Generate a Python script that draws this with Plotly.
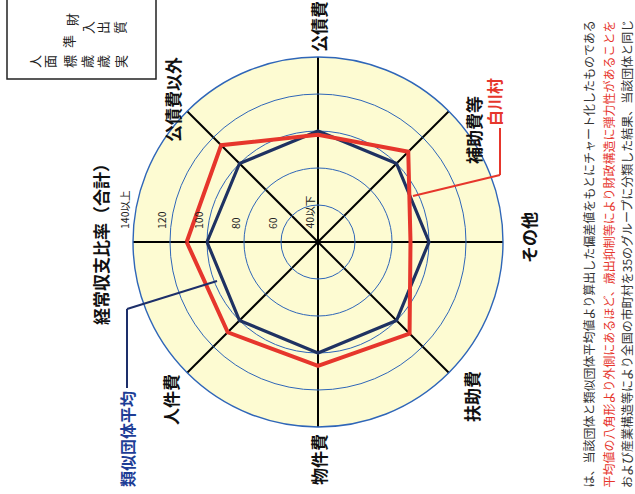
import plotly.graph_objects as go

# ---------------- data ----------------
categories = ["経常収支比率(合計)", "公債費以外", "公債費", "補助費等",
              "その他", "扶助費", "物件費", "人件費"]
shirakawa = [111, 114, 98, 109, 90, 110, 107, 109]   # 白川村
ruiji = [100, 100, 100, 100, 100, 100, 100, 100]      # 類似団体平均
ring_values = [60, 80, 100, 120]
scale_values = [40, 60, 80, 100, 120, 140]
scale_labels = ["40以下", "60", "80", "100", "120", "140以上"]

# ---------------- geometry ----------------
W, H = 635, 494
CX, CY, R = 318, 242, 185          # polar centre / radius in pixels
RMIN, RMAX = 40, 140


def P(x, y):
    return x / W, 1 - y / H


FONT = "Noto Sans CJK JP"
BLUE = "#2f66b8"
NAVY = "#1f3262"
RED = "#e6362c"

fig = go.Figure()

fig.add_trace(go.Scatterpolar(
    r=ruiji + ruiji[:1], theta=categories + categories[:1],
    mode="lines", line=dict(color=NAVY, width=3.2), name="類似団体平均",
    hoverinfo="skip"))
fig.add_trace(go.Scatterpolar(
    r=shirakawa + shirakawa[:1], theta=categories + categories[:1],
    mode="lines", line=dict(color=RED, width=4), name="白川村",
    hoverinfo="skip"))

fig.update_layout(
    width=W, height=H,
    margin=dict(l=0, r=0, t=0, b=0),
    paper_bgcolor="white",
    showlegend=False,
    polar=dict(
        domain=dict(x=[(CX - R) / W, (CX + R) / W],
                    y=[(H - CY - R) / H, (H - CY + R) / H]),
        bgcolor="#fdfbd2",
        radialaxis=dict(range=[RMIN, RMAX], tickvals=ring_values,
                        showticklabels=False, ticks="", showline=False,
                        gridcolor=BLUE, gridwidth=1.3),
        angularaxis=dict(rotation=180, direction="clockwise",
                         showticklabels=False, ticks="",
                         showline=True, linecolor=BLUE, linewidth=1.4,
                         gridcolor="black", gridwidth=2),
    ),
)

ann = []

# radial scale labels along the left spoke
for v, t in zip(scale_values, scale_labels):
    rpx = (v - RMIN) / (RMAX - RMIN) * R
    x, y = P(CX - rpx - 9, CY - 11)
    ann.append(dict(x=x, y=y, xref="paper", yref="paper", text=t,
                    textangle=-90, showarrow=False, xanchor="center",
                    yanchor="bottom",
                    font=dict(family=FONT, size=10.5, color="#222")))

# category labels
cat_pos = [(101, 240), (172, 100), (318, 27), (474, 130),
           (528, 238), (471, 396), (318, 460), (170, 400)]
cat_text = ["経常収支比率（合計）", "公債費以外", "公債費", "補助費等",
            "その他", "扶助費", "物件費", "人件費"]
for t, (px, py) in zip(cat_text, cat_pos):
    x, y = P(px, py)
    ann.append(dict(x=x, y=y, xref="paper", yref="paper",
                    text="<b>%s</b>" % t, textangle=-90, showarrow=False,
                    xanchor="center", yanchor="middle",
                    font=dict(family=FONT, size=17, color="#111")))

# legend callouts
x, y = P(494, 102)
ann.append(dict(x=x, y=y, xref="paper", yref="paper", text="<b>白川村</b>",
                textangle=-90, showarrow=False, xanchor="center",
                yanchor="middle", font=dict(family=FONT, size=16, color=RED)))
x, y = P(127, 489)
ann.append(dict(x=x, y=y, xref="paper", yref="paper",
                text="<b>類似団体平均</b>", textangle=-90, showarrow=False,
                xanchor="center", yanchor="bottom",
                font=dict(family=FONT, size=16, color="#1d3d96")))

shapes = []


def seg(x0, y0, x1, y1, color, width):
    a, b = P(x0, y0)
    c, d = P(x1, y1)
    shapes.append(dict(type="line", xref="paper", yref="paper",
                       x0=a, y0=b, x1=c, y1=d,
                       line=dict(color=color, width=width)))


seg(500, 128, 500, 175, RED, 2)
seg(500, 175, 413, 196, RED, 2)
seg(127, 388, 127, 309, "#1d2f6a", 2)
seg(127, 309, 217, 281, "#1d2f6a", 2)

# cropped table box at top-left
a, b = P(7, -5)
c, d = P(156, 79)
shapes.append(dict(type="rect", xref="paper", yref="paper", x0=a, y0=d,
                   x1=c, y1=b, line=dict(color="#222", width=1.5)))
box_chars = [("人", 35, 62), ("面", 50, 62), ("標", 70, 62), ("歳", 87, 62),
             ("歳", 103, 62), ("実", 121, 62), ("準", 68, 42), ("財", 71, 20),
             ("入", 88, 28), ("出", 103, 28), ("質", 120, 28)]
for ch, px, py in box_chars:
    x, y = P(px, py)
    ann.append(dict(x=x, y=y, xref="paper", yref="paper", text=ch,
                    textangle=-90, showarrow=False, xanchor="center",
                    yanchor="middle",
                    font=dict(family=FONT, size=13, color="#222")))

# explanatory text columns at the right edge
cols = [
    ("は、当該団体と類似団体平均値より算出した偏差値をもとにチャート化したものである", 588, "#333"),
    ("平均値の八角形より外側にあるほど、歳出抑制等により財政構造に弾力性があることを", 608, RED),
    ("および産業構造等により全国の市町村を35のグループに分類した結果、当該団体と同じ", 626, "#333"),
]
for t, px, col in cols:
    x, y = P(px, 490)
    ann.append(dict(x=x, y=y, xref="paper", yref="paper", text=t,
                    textangle=-90, showarrow=False, xanchor="center",
                    yanchor="bottom",
                    font=dict(family=FONT, size=12, color=col)))

fig.update_layout(annotations=ann, shapes=shapes)
fig.write_html("out.html")
